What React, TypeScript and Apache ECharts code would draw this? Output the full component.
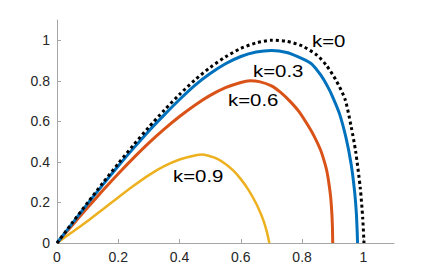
import React, { useEffect, useRef } from "react";
import * as echarts from "echarts";

const xK0 = [0, 0.05, 0.1, 0.15, 0.2, 0.25, 0.3, 0.35, 0.4, 0.45, 0.5, 0.55, 0.6, 0.65, 0.7, 0.75, 0.8, 0.85, 0.88, 0.91, 0.94, 0.96, 0.975, 0.99, 0.998, 1.002];
const yK0 = [0, 0.1, 0.199, 0.297, 0.392, 0.484, 0.572, 0.655, 0.733, 0.804, 0.866, 0.918, 0.96, 0.987, 1.0, 0.995, 0.972, 0.925, 0.875, 0.805, 0.71, 0.575, 0.45, 0.27, 0.12, 0];

const xK03 = [0, 0.05, 0.1, 0.15, 0.2, 0.25, 0.3, 0.35, 0.4, 0.45, 0.5, 0.55, 0.6, 0.65, 0.7, 0.75, 0.8, 0.83, 0.86, 0.884, 0.9, 0.922, 0.944, 0.96, 0.971, 0.977, 0.98, 0.981];
const yK03 = [0, 0.097, 0.194, 0.288, 0.38, 0.468, 0.553, 0.632, 0.708, 0.778, 0.836, 0.884, 0.92, 0.942, 0.95, 0.94, 0.91, 0.885, 0.83, 0.77, 0.72, 0.638, 0.515, 0.39, 0.26, 0.15, 0.05, 0];

const xK06 = [0, 0.05, 0.1, 0.15, 0.2, 0.25, 0.3, 0.35, 0.4, 0.45, 0.5, 0.55, 0.6, 0.63, 0.66, 0.7, 0.73, 0.76, 0.79, 0.82, 0.84, 0.86, 0.87, 0.88, 0.887, 0.893, 0.897, 0.899, 0.9];
const yK06 = [0, 0.088, 0.175, 0.26, 0.342, 0.42, 0.494, 0.562, 0.624, 0.68, 0.728, 0.766, 0.792, 0.8, 0.796, 0.775, 0.743, 0.7, 0.648, 0.578, 0.525, 0.46, 0.415, 0.36, 0.3, 0.23, 0.15, 0.08, 0];

const xK09 = [0, 0.05, 0.1, 0.15, 0.2, 0.25, 0.3, 0.35, 0.4, 0.45, 0.475, 0.5, 0.525, 0.55, 0.575, 0.6, 0.625, 0.65, 0.665, 0.675, 0.685, 0.693];
const yK09 = [0, 0.054, 0.109, 0.167, 0.225, 0.282, 0.335, 0.379, 0.412, 0.432, 0.436, 0.428, 0.414, 0.39, 0.358, 0.315, 0.262, 0.195, 0.145, 0.105, 0.055, 0];

const tickValues = [0, 0.2, 0.4, 0.6, 0.8, 1];
const seriesLabels = ["k=0", "k=0.3", "k=0.6", "k=0.9"];

const pair = (xs: number[], ys: number[]) => xs.map((x, i) => [x, ys[i]]);

export default function App() {
  const ref = useRef<HTMLDivElement>(null);
  useEffect(() => {
    if (!ref.current) return;
    const chart = echarts.init(ref.current, null, { renderer: "svg" });
    const font = "'Liberation Sans', Arial, Helvetica, sans-serif";
    const axisCommon = {
      type: "value" as const,
      min: 0,
      max: 1.1,
      interval: 0.2,
      splitLine: { show: false },
      axisLine: { show: true, lineStyle: { color: "#a6a6a6", width: 1 } },
      axisTick: { show: true, inside: true, length: 4, customValues: tickValues, lineStyle: { color: "#a6a6a6" } },
      axisLabel: {
        customValues: tickValues,
        color: "#262626",
        fontSize: 14,
        fontFamily: font,
        formatter: (v: number) => String(Math.round(v * 10) / 10),
      },
    };
    const labelStyle = { fontSize: 17, fontFamily: font, fill: "#000", textVerticalAlign: "middle" as const };
    const common = { type: "line" as const, showSymbol: false, smooth: 0.25 };
    chart.setOption({
      animation: false,
      grid: { left: 57, right: 42, top: 20, bottom: 30 },
      xAxis: { ...axisCommon, axisLabel: { ...axisCommon.axisLabel, margin: 7 } },
      yAxis: { ...axisCommon, axisLabel: { ...axisCommon.axisLabel, margin: 7 } },
      series: [
        { ...common, name: seriesLabels[3], data: pair(xK09, yK09), lineStyle: { color: "#EDB120", width: 2.5 } },
        { ...common, name: seriesLabels[2], data: pair(xK06, yK06), lineStyle: { color: "#D95319", width: 3 } },
        { ...common, name: seriesLabels[1], data: pair(xK03, yK03), lineStyle: { color: "#0072BD", width: 3 } },
        { ...common, name: seriesLabels[0], data: pair(xK0, yK0), lineStyle: { color: "#000", width: 3, type: "dotted" } },
      ],
      graphic: [
        { type: "text", x: 312, y: 41, scaleX: 1.2, style: { ...labelStyle, text: seriesLabels[0] } },
        { type: "text", x: 253, y: 71, scaleX: 1.2, style: { ...labelStyle, text: seriesLabels[1] } },
        { type: "text", x: 228, y: 100, scaleX: 1.2, style: { ...labelStyle, text: seriesLabels[2] } },
        { type: "text", x: 173, y: 176, scaleX: 1.2, style: { ...labelStyle, text: seriesLabels[3] } },
      ],
    });
    return () => chart.dispose();
  }, []);
  return <div ref={ref} style={{ width: 436, height: 273, margin: -8 }} />;
}
